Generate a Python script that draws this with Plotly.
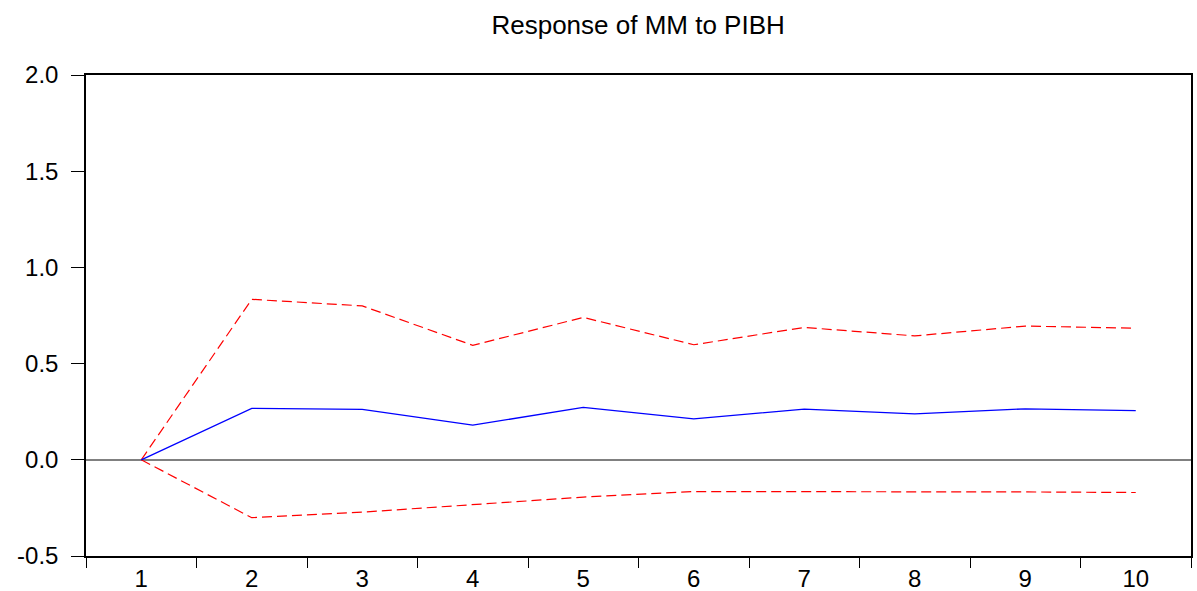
import plotly.graph_objects as go

periods = ["1", "2", "3", "4", "5", "6", "7", "8", "9", "10"]
response = [0.0, 0.267, 0.262, 0.180, 0.272, 0.213, 0.263, 0.239, 0.265, 0.256]
upper_band = [0.0, 0.834, 0.800, 0.595, 0.740, 0.598, 0.688, 0.644, 0.695, 0.684]
lower_band = [0.0, -0.301, -0.272, -0.232, -0.194, -0.165, -0.165, -0.165, -0.167, -0.170]
y_ticks = [-0.5, 0.0, 0.5, 1.0, 1.5, 2.0]
y_tick_labels = ["-0.5", "0.0", "0.5", "1.0", "1.5", "2.0"]

FONT = "Liberation Sans, Arial, sans-serif"

fig = go.Figure()
fig.add_trace(go.Scatter(x=periods, y=upper_band, mode="lines",
                         line=dict(color="#ff0000", width=1.2, dash="10px,5px"),
                         showlegend=False))
fig.add_trace(go.Scatter(x=periods, y=lower_band, mode="lines",
                         line=dict(color="#ff0000", width=1.2, dash="10px,5px"),
                         showlegend=False))
fig.add_trace(go.Scatter(x=periods, y=response, mode="lines",
                         line=dict(color="#0000ff", width=1.3),
                         showlegend=False))

fig.update_layout(
    width=1197, height=591,
    margin=dict(l=86, r=6, t=75, b=35, autoexpand=False),
    paper_bgcolor="white", plot_bgcolor="white",
    font=dict(family=FONT, size=24, color="black"),
    title=dict(text="Response of MM to PIBH", x=0.5331, xanchor="center",
               y=1 - 25 / 591, yanchor="middle", yref="container",
               font=dict(family=FONT, size=26, color="black")),
)
fig.update_xaxes(
    type="category", range=[-0.5, 9.5], tickson="boundaries",
    ticks="outside", ticklen=10, automargin=False,
    tickwidth=1.2, tickcolor="black", showgrid=False, zeroline=False,
    showline=True, linecolor="black", linewidth=1.5, mirror=True,
    tickfont=dict(family=FONT, size=24, color="black"),
)
fig.update_yaxes(
    range=[-0.5, 2.0], tickvals=y_ticks, ticktext=y_tick_labels,
    ticks="outside", ticklen=13, tickwidth=1.2, tickcolor="black",
    automargin=False,
    showgrid=False, zeroline=True, zerolinecolor="#808080", zerolinewidth=1.5,
    showline=True, linecolor="black", linewidth=1.5, mirror=True,
    ticklabelstandoff=8,
    tickfont=dict(family=FONT, size=24, color="black"),
)

fig.write_html("out.html")
